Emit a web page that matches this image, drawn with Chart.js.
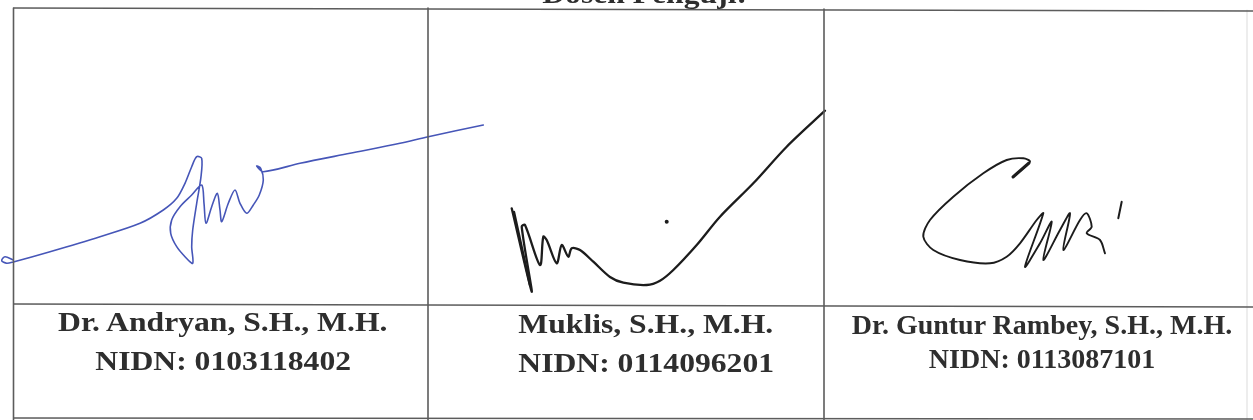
<!DOCTYPE html>
<html>
<head>
<meta charset="utf-8">
<script src="https://cdn.jsdelivr.net/npm/chart.js@4.4.1/dist/chart.umd.min.js"></script>
<style>
  html, body { margin:0; padding:0; background:#fff; }
  #wrap { position:relative; width:1253px; height:420px; overflow:hidden; background:#fff; }
  #c { position:absolute; left:0; top:0; }
  .t { position:absolute; width:600px; text-align:center; white-space:nowrap;
       font-family:"Liberation Serif","Times New Roman",serif; font-weight:bold;
       font-size:28px; line-height:28px; color:#2e2e2e; z-index:2; }
  .t span { display:inline-block; }
  .wide span { transform:scaleX(1.13); }
</style>
</head>
<body>
<div id="wrap">
  <canvas id="c" width="1253" height="420"></canvas>
  <div class="t wide" style="left:345px;top:-20px;"><span>Dosen Penguji:</span></div>

  <div class="t wide" style="left:-77px;top:308px;"><span>Dr. Andryan, S.H., M.H.</span></div>
  <div class="t wide" style="left:-77px;top:347px;"><span>NIDN: 0103118402</span></div>

  <div class="t wide" style="left:346px;top:310px;"><span>Muklis, S.H., M.H.</span></div>
  <div class="t wide" style="left:346px;top:349px;"><span>NIDN: 0114096201</span></div>

  <div class="t" style="left:742px;top:311px;"><span>Dr. Guntur Rambey, S.H., M.H.</span></div>
  <div class="t" style="left:742px;top:345px;"><span>NIDN: 0113087101</span></div>
</div>
<script>
// Table rules (image coordinates, y downward)
const ruleTop = [[14,8],[1253,11]];
const ruleMid = [[14,304],[1253,307]];
const ruleBottom = [[14,418],[1253,419]];
const ruleLeft = [[13.5,8],[13.5,420]];
const ruleCol1 = [[428,8],[428,420]];
const ruleCol2 = [[824,9],[824,420]];
const ruleRight = [[1247,10],[1247,420]];

// Signature 1 (blue)
const sig1 = [[13.3,260],[5,256.7],[1.7,260.7],[6.7,263.3],[13.3,262],[50,251.7],[100,236.7],[140,223.3],
  [163.3,210],[176.7,198.3],[185,183.3],[191.7,166.7],[196.7,156.7],[201.7,158.3],[201,176.7],[196.7,203.3],
  [192.7,230],[191.7,246.7],[192.7,263.3],[185,256.7],[176.7,246.7],[170.7,233.3],[171.7,220],[180,206.7],
  [191.7,195],[201.7,185],[204,203.3],[206,223.3],[211.7,206.7],[217.3,193.3],[220,210],[221.7,221.7],
  [228.3,203.3],[235,190],[240,203.3],[246.7,213.3],[253.3,205],[259.3,195],[263.3,180],[260.7,168.3],
  [256.7,166],[263.3,171.7],[300,163.3],[350,153.3],[400,143.3],[428.3,136.7],[483.3,125]];

// Signature 2 (black)
const sig2 = [[511.7,208.3],[531.7,291.7],[521.7,226.7],[525,225],[540,265],[543.3,236.7],[546.7,240],
  [556.7,263.3],[561.7,245],[568.3,256.7],[571.7,248.3],[580,250],[593.3,261.7],[610,277],[623.3,282.7],[646.7,285],
  [660,280.7],[673.3,270],[696.7,245],[720,216.7],[753.3,183.3],[786.7,146.7],[825,110.7]];
const sig2b = [[514,212],[530,285]];
const sig2dot = [[666.7,221.7]];

// Signature 3 (black)
const sig3 = [[1015,175],[1030,161.7],[1023.3,158.3],[1006.7,160],[983.3,173.3],[953.3,196.7],[930,220],
  [923.3,236.7],[933.3,250],[960,260],[990,263.3],[1006.7,256.7],[1020,243.3],[1036.7,220],[1043.3,213.3],
  [1025,266.7],[1040,243.3],[1051.7,221.7],[1043.3,260],[1060,230],[1070,213.3],[1063.3,250],[1080,220],
  [1086.7,213.3],[1091.7,226.7],[1086.7,233.3],[1100,240],[1105,253.3]];
const sig3hook = [[1013,177],[1029,163]];
const sig3tick = [[1121.7,201.7],[1118.3,218.3]];

const pts = a => a.map(p => ({x:p[0], y:p[1]}));
const line = (a, color, w, tension) => ({
  data: pts(a), showLine:true, borderColor:color, backgroundColor:color,
  borderWidth:w, pointRadius:0, tension:tension||0, borderCapStyle:'round', borderJoinStyle:'round', clip:false
});

const grey = '#5c5c5c';
new Chart(document.getElementById('c'), {
  type:'scatter',
  data:{ datasets:[
    line(ruleTop, grey, 1.6), line(ruleMid, grey, 1.6), line(ruleBottom, grey, 1.6),
    line(ruleLeft, grey, 1.6), line(ruleCol1, grey, 1.6), line(ruleCol2, grey, 1.6),
    line(ruleRight, '#e2e2e2', 1.2),
    line(sig1, '#4656b8', 1.6, 0.3),
    line(sig2, '#1c1c1c', 2.3, 0.3),
    line(sig2b, '#1c1c1c', 2.4),
    {data:pts(sig2dot), pointRadius:2, backgroundColor:'#1c1c1c', borderWidth:0},
    line(sig3, '#1c1c1c', 1.9, 0.3),
    line(sig3hook, '#1c1c1c', 3),
    line(sig3tick, '#1c1c1c', 2)
  ]},
  options:{
    responsive:false, animation:false, events:[],
    layout:{padding:0, autoPadding:false},
    plugins:{legend:{display:false}, tooltip:{enabled:false}},
    scales:{
      x:{type:'linear', min:0, max:1253, display:false},
      y:{type:'linear', min:0, max:420, reverse:true, display:false}
    }
  }
});
</script>
</body>
</html>
